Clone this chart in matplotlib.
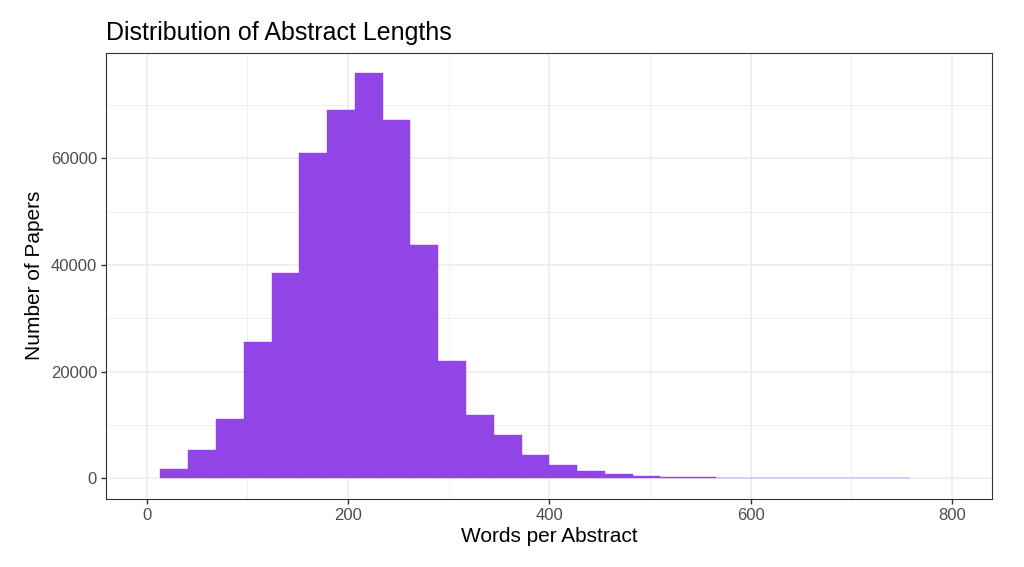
import numpy as np
import matplotlib
matplotlib.use('Agg')
import matplotlib.pyplot as plt
from matplotlib.ticker import MultipleLocator

# histogram: 30 bins over [0, 800], end bins dropped
bin_width = 800 / 29
bin_index = np.arange(1, 28)
counts = [1700, 5300, 11200, 25600, 38500, 61000, 69000, 76000, 67100,
          43700, 22100, 11900, 8050, 4400, 2550, 1350, 750, 430, 300,
          230, 120, 60, 50, 40, 35, 30, 25]

x_ticks = [0, 200, 400, 600, 800]
y_ticks = [0, 20000, 40000, 60000]

plt.rcParams['font.family'] = ['Liberation Sans', 'DejaVu Sans']

fig = plt.figure(figsize=(10.24, 5.67), dpi=100)
ax = fig.add_axes([0.1038, 0.1205, 0.969 - 0.1038, 0.907 - 0.1205])

ax.bar(bin_index * bin_width, counts, width=bin_width, color='#9145E6',
       edgecolor='#9145E6', linewidth=0.3, zorder=3)

ax.set_xlim(-40, 840)
ax.set_ylim(-0.05 * 76000, 1.05 * 76000)
ax.set_xticks(x_ticks)
ax.set_yticks(y_ticks)
ax.xaxis.set_minor_locator(MultipleLocator(100))
ax.yaxis.set_minor_locator(MultipleLocator(10000))

ax.grid(which='major', color='#EBEBEB', linewidth=1.1, zorder=0)
ax.grid(which='minor', color='#EBEBEB', linewidth=0.55, zorder=0)
ax.set_axisbelow(True)
ax.tick_params(which='minor', length=0)
ax.tick_params(which='major', length=3.6, width=1.0, color='#333333',
               labelcolor='#4D4D4D', labelsize=12, pad=3)
for s in ax.spines.values():
    s.set_color('#333333')
    s.set_linewidth(0.8)

ax.set_xlabel('Words per Abstract', fontsize=15, labelpad=3)
ax.set_ylabel('Number of Papers', fontsize=15, labelpad=5)
ax.set_title('Distribution of Abstract Lengths', fontsize=18, loc='left',
             pad=9)

fig.savefig('out.png', dpi=100)
